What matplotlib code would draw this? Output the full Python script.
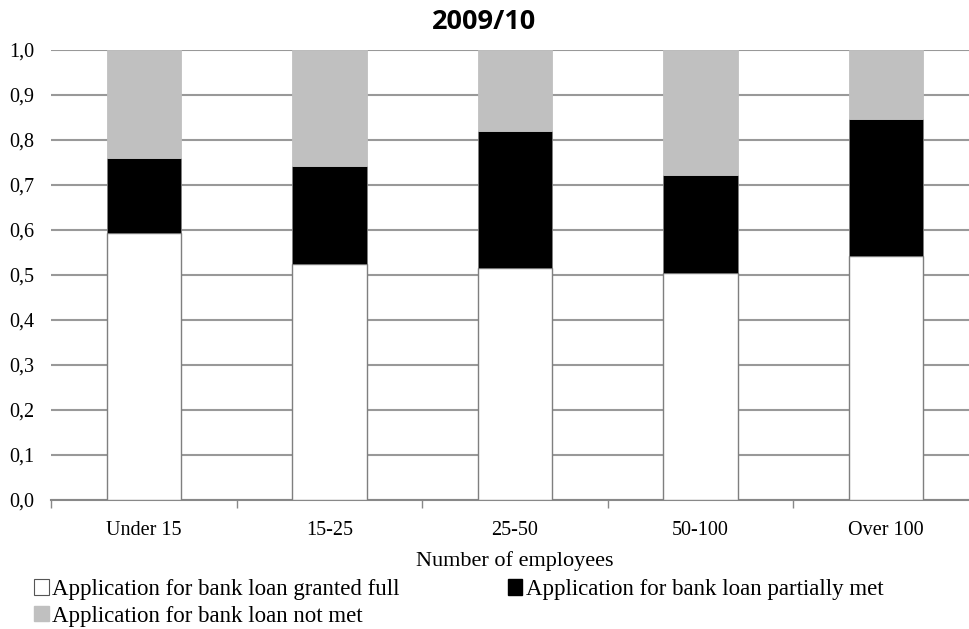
import numpy as np
import matplotlib.pyplot as plt
from matplotlib.patches import Patch

# data (shares of applications)
categories = ['Under 15', '15-25', '25-50', '50-100', 'Over 100']
granted_full = [0.593, 0.524, 0.516, 0.504, 0.542]
partially_met = [0.167, 0.218, 0.304, 0.218, 0.304]
not_met = [0.240, 0.258, 0.180, 0.278, 0.154]
y_ticks = [0.0, 0.1, 0.2, 0.3, 0.4, 0.5, 0.6, 0.7, 0.8, 0.9, 1.0]

serif = 'Liberation Serif'

fig = plt.figure(figsize=(9.69, 6.29), dpi=100)
ax = fig.add_axes([51.25 / 969, 129 / 629, 927.5 / 969, 450 / 629])

x = np.arange(len(categories))
full = np.array(granted_full)
part = np.array(partially_met)
nm = np.array(not_met)

ax.bar(x, full, width=0.4, color='white', edgecolor='#7f7f7f', linewidth=1, zorder=3)
ax.bar(x, part, width=0.4, bottom=full, color='black', edgecolor='#7f7f7f', linewidth=0.6, zorder=3)
ax.bar(x, nm, width=0.4, bottom=full + part, color='#c0c0c0', edgecolor='#c0c0c0', linewidth=0.6, zorder=3)

ax.set_xlim(-0.5, 4.5)
ax.set_ylim(0, 1.0)
ax.set_yticks(y_ticks)
ax.set_yticklabels([('%.1f' % v).replace('.', ',') for v in y_ticks], fontfamily=serif, fontsize=14.5)
ax.yaxis.grid(True, color='#999999', linewidth=1.5, zorder=0)
ax.set_axisbelow(True)
ax.tick_params(axis='y', length=0, pad=12)

ax.set_xticks(x)
ax.set_xticklabels(categories, fontfamily=serif, fontsize=14.5)
ax.set_xticks(np.arange(-0.5, 5.0, 1.0), minor=True)
ax.tick_params(axis='x', which='major', length=0, pad=15)
ax.tick_params(axis='x', which='minor', length=6, color='#888888', width=1)
ax.set_xlabel('Number of employees', fontfamily=serif, fontsize=16, labelpad=8)

for s in ['top', 'right', 'left']:
    ax.spines[s].set_visible(False)
ax.spines['bottom'].set_color('#888888')
ax.spines['bottom'].set_linewidth(1.5)

fig.text(0.5, 1 - 22 / 629, '2009/10', ha='center', va='center', fontsize=19.5,
         fontweight='bold', fontfamily='Open Sans')

handles = [
    Patch(facecolor='white', edgecolor='#555555', linewidth=0.8, label='Application for bank loan granted full'),
    Patch(facecolor='#c0c0c0', edgecolor='#c0c0c0', label='Application for bank loan not met'),
    Patch(facecolor='black', edgecolor='black', label='Application for bank loan partially met'),
]
fig.legend(handles=handles, loc='upper left', bbox_to_anchor=(34 / 969, 1 - 579 / 629),
           ncol=2, frameon=False, prop={'family': serif, 'size': 16.5},
           handlelength=0.65, handleheight=0.65, handletextpad=0.15, columnspacing=4.7,
           labelspacing=0.25, borderaxespad=0, borderpad=0)

fig.savefig('out.png', dpi=100)
